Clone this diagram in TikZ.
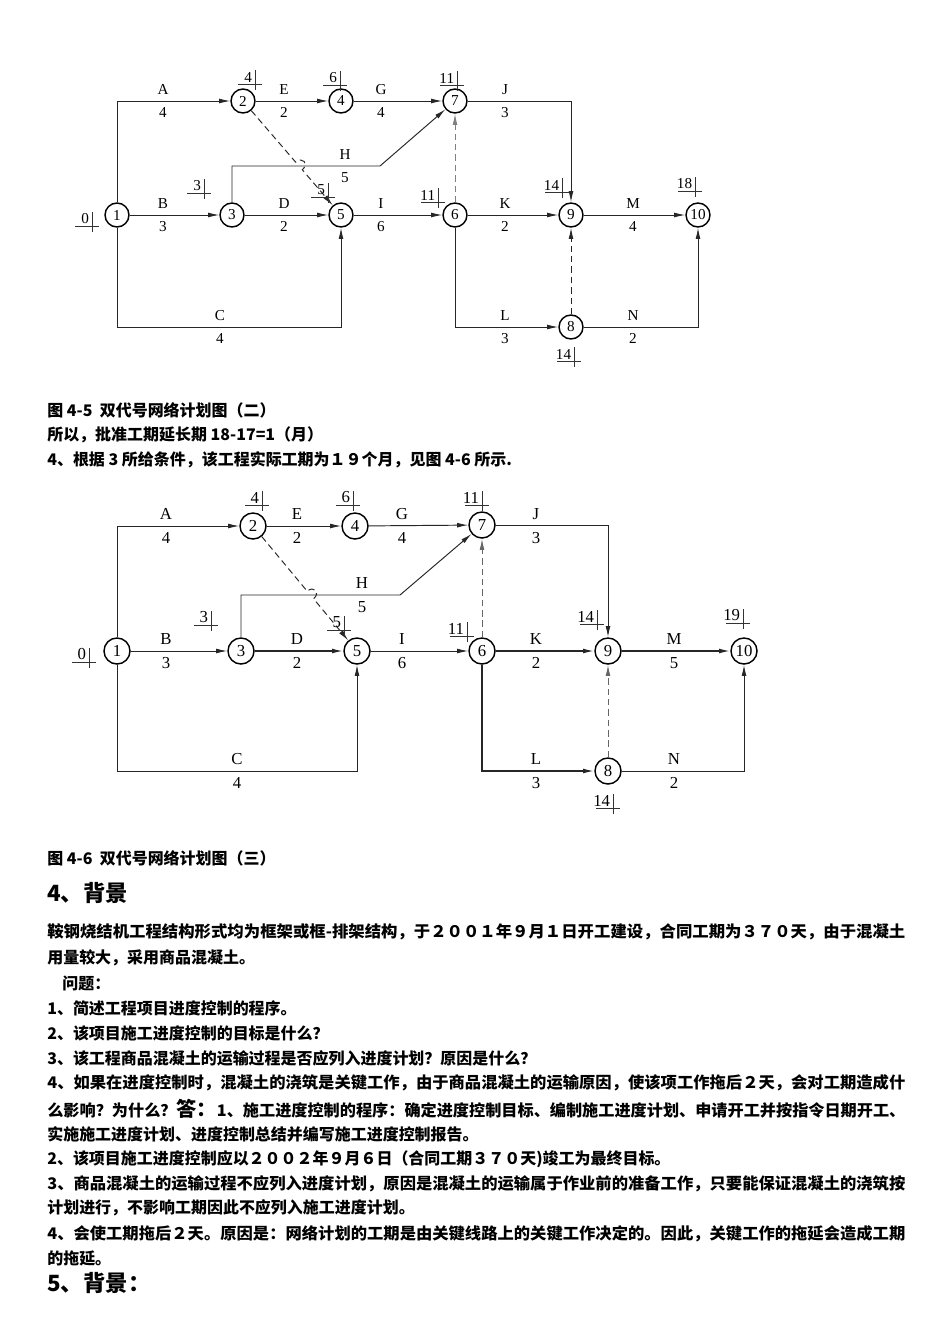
\documentclass[tikz,border=0pt]{standalone}
\usepackage{fontspec}
\usepackage{graphicx}
\setmainfont{Liberation Serif}
\newfontfamily\cjk{Noto Sans CJK SC}
\usetikzlibrary{arrows.meta}
\newlength\pxu
\setlength\pxu{0.626pt}
\tikzset{
  ev/.style={circle, draw, line width=0.9pt, inner sep=0pt, minimum size=15pt},
  act/.style={draw=black!85, line width=0.6pt, -{Latex[length=7pt,width=3pt]}},
  dum/.style={act, dash pattern=on 4pt off 2.5pt},
  mk/.style={draw=black!80, line width=0.5pt},
  txt/.style={anchor=west, inner sep=0pt, font=\cjk\bfseries\fontsize{10}{12}\selectfont},
  head/.style={txt, font=\cjk\bfseries\fontsize{14}{16}\selectfont},
}
% time mark: name, x, y of the cross, number
\newcommand\tmark[4]{%
  \draw[mk] (#2-17,#3) -- (#2+7,#3) (#2,#3-14) -- (#2,#3+6);
  \node[anchor=south east, inner sep=1pt] (#1) at (#2-1,#3) {#4};}
% activity label: name, x, y of the line, letter, duration
\newcommand\alab[5]{%
  \node[anchor=south, inner sep=2pt] (#1) at (#2,#3-3) {#4};
  \node[anchor=north, inner sep=2pt] (#1d) at (#2,#3+3) {#5};}
% stretch one line of text to the full width
\newcommand\jl[1]{\resizebox{858\pxu}{\height}{#1}}

\begin{document}
\begin{tikzpicture}[x=0.626pt, y=-0.626pt]
  \fill[white] (0,0) rectangle (950,1344);
  \useasboundingbox (0,0) rectangle (950,1344);

  % figure 4-5
  \begin{scope}[font=\fontsize{9.5}{11}\selectfont]
    \node[ev] (a1) at (117,215) {1};
    \node[ev] (a2) at (243,101) {2};
    \node[ev] (a4) at (341,101) {4};
    \node[ev] (a7) at (455,101) {7};
    \node[ev] (a3) at (232,215) {3};
    \node[ev] (a5) at (341,215) {5};
    \node[ev] (a6) at (455,215) {6};
    \node[ev] (a9) at (571,215) {9};
    \node[ev] (a10) at (698,215) {10};
    \node[ev] (a8) at (571,327) {8};
    \coordinate (ha) at (380,166);
    \coordinate (ca) at (341,327);
    \coordinate (pa1) at (295.7,162.2);
    \coordinate (pa2) at (302.3,169.8);

    \draw[act] (a1) |- (a2);
    \draw[act] (a2) -- (a4);
    \draw[act] (a4) -- (a7);
    \draw[act] (a7) -| (a9);
    \draw[act] (a3) |- (ha) -- (a7);
    \draw[act] (a1) -- (a3);
    \draw[act] (a3) -- (a5);
    \draw[act] (a5) -- (a6);
    \draw[act] (a6) -- (a9);
    \draw[act] (a9) -- (a10);
    \draw[act] (a1) |- (ca) -- (a5);
    \draw[act] (a6) |- (a8);
    \draw[act] (a8) -| (a10);
    \draw[dum] (a2) -- (pa1) .. controls +(7,-6) and +(7,-6) .. (pa2) -- (a5);
    \draw[dum, draw=black!50] (a6) -- (a7);
    \draw[dum] (a8) -- (a9);

    \alab{aA}{163}{101}{A}{4}
    \alab{aE}{284}{101}{E}{2}
    \alab{aG}{381}{101}{G}{4}
    \alab{aJ}{505}{101}{J}{3}
    \alab{aH}{345}{166}{H}{5}
    \alab{aB}{163}{215}{B}{3}
    \alab{aD}{284}{215}{D}{2}
    \alab{aI}{381}{215}{I}{6}
    \alab{aK}{505}{215}{K}{2}
    \alab{aM}{633}{215}{M}{4}
    \alab{aC}{220}{327}{C}{4}
    \alab{aL}{505}{327}{L}{3}
    \alab{aN}{633}{327}{N}{2}

    \tmark{ta1}{92}{226}{0}
    \tmark{ta2}{255}{84}{4}
    \tmark{ta4}{340}{85}{6}
    \tmark{ta7}{457}{85}{11}
    \tmark{ta3}{204}{193}{3}
    \tmark{ta5}{328}{197}{5}
    \tmark{ta6}{438}{202}{11}
    \tmark{ta9}{562}{192}{14}
    \tmark{ta10}{695}{191}{18}
    \tmark{ta8}{574}{361}{14}
  \end{scope}

  \node[txt] (cap1) at (47,410) {图 4-5\ \ 双代号网络计划图（二）};
  \node[txt] (t1) at (47,435) {所以，批准工期延长期 18-17=1（月）};
  \node[txt] (t2) at (47,460) {4、根据 3 所给条件，该工程实际工期为１９个月，见图 4-6 所示.};

  % figure 4-6
  \begin{scope}[font=\fontsize{10.5}{12}\selectfont, ev/.append style={minimum size=16.3pt}]
    \node[ev] (b1) at (117,651) {1};
    \node[ev] (b2) at (253,526) {2};
    \node[ev] (b4) at (355,526) {4};
    \node[ev] (b7) at (482,525) {7};
    \node[ev] (b3) at (241,651) {3};
    \node[ev] (b5) at (357,651) {5};
    \node[ev] (b6) at (482,651) {6};
    \node[ev] (b9) at (608,651) {9};
    \node[ev] (b10) at (744,651) {10};
    \node[ev] (b8) at (608,771) {8};
    \coordinate (hb) at (400,595);
    \coordinate (cb) at (357,771);
    \coordinate (pb1) at (307.2,591.2);
    \coordinate (pb2) at (313.6,598.8);

    \draw[act] (b1) |- (b2);
    \draw[act] (b2) -- (b4);
    \draw[act] (b4) -- (b7);
    \draw[act] (b7) -| (b9);
    \draw[act] (b3) |- (hb) -- (b7);
    \draw[act] (b1) -- (b3);
    \draw[act, line width=0.9pt] (b3) -- (b5);
    \draw[act] (b5) -- (b6);
    \draw[act, line width=0.9pt] (b6) -- (b9);
    \draw[act, line width=0.9pt] (b9) -- (b10);
    \draw[act] (b1) |- (cb) -- (b5);
    \draw[act, line width=0.9pt] (b6) |- (b8);
    \draw[act] (b8) -| (b10);
    \draw[dum] (b2) -- (pb1) .. controls +(7,-6) and +(7,-6) .. (pb2) -- (b5);
    \draw[dum, draw=black!60] (b6) -- (b7);
    \draw[dum, draw=black!60] (b8) -- (b9);

    \alab{bA}{166}{526}{A}{4}
    \alab{bE}{297}{526}{E}{2}
    \alab{bG}{402}{526}{G}{4}
    \alab{bJ}{536}{526}{J}{3}
    \alab{bH}{362}{595}{H}{5}
    \alab{bB}{166}{651}{B}{3}
    \alab{bD}{297}{651}{D}{2}
    \alab{bI}{402}{651}{I}{6}
    \alab{bK}{536}{651}{K}{2}
    \alab{bM}{674}{651}{M}{5}
    \alab{bC}{237}{771}{C}{4}
    \alab{bL}{536}{771}{L}{3}
    \alab{bN}{674}{771}{N}{2}

    \tmark{tb1}{89}{662}{0}
    \tmark{tb2}{262}{505}{4}
    \tmark{tb4}{353}{505}{6}
    \tmark{tb7}{482}{505}{11}
    \tmark{tb3}{211}{625}{3}
    \tmark{tb5}{344}{630}{5}
    \tmark{tb6}{467}{636}{11}
    \tmark{tb9}{597}{624}{14}
    \tmark{tb10}{743}{623}{19}
    \tmark{tb8}{613}{808}{14}
  \end{scope}

  \node[txt] (cap2) at (47,858) {图 4-6\ \ 双代号网络计划图（三）};
  \node[head] (h4) at (47,893) {4、背景};
  \node[txt] (p1) at (47,932) {\jl{鞍钢烧结机工程结构形式均为框架或框-排架结构，于２００１年９月１日开工建设，合同工期为３７０天，由于混凝土}};
  \node[txt] (p2) at (47,958) {用量较大，采用商品混凝土。};
  \node[txt] (p3) at (62,983) {问题：};
  \node[txt] (p4) at (47,1008) {1、简述工程项目进度控制的程序。};
  \node[txt] (p5) at (47,1033) {2、该项目施工进度控制的目标是什么？};
  \node[txt] (p6) at (47,1058) {3、该工程商品混凝土的运输过程是否应列入进度计划？原因是什么？};
  \node[txt] (p7) at (47,1083) {\jl{4、如果在进度控制时，混凝土的浇筑是关键工作，由于商品混凝土的运输原因，使该项工作拖后２天，会对工期造成什}};
  \node[txt] (p8) at (47,1109) {\jl{么影响？为什么？{\fontsize{12.5}{14}\selectfont 答：}1、施工进度控制的程序：确定进度控制目标、编制施工进度计划、申请开工并按指令日期开工、}};
  \node[txt] (p9) at (47,1134) {实施施工进度计划、进度控制总结并编写施工进度控制报告。};
  \node[txt] (p10) at (47,1159) {2、该项目施工进度控制应以２００２年９月６日（合同工期３７０天)竣工为最终目标。};
  \node[txt] (p11) at (47,1184) {\jl{3、商品混凝土的运输过程不应列入进度计划，原因是混凝土的运输属于作业前的准备工作，只要能保证混凝土的浇筑按}};
  \node[txt] (p12) at (47,1208) {计划进行，不影响工期因此不应列入施工进度计划。};
  \node[txt] (p13) at (47,1234) {\jl{4、会使工期拖后２天。原因是：网络计划的工期是由关键线路上的关键工作决定的。因此，关键工作的拖延会造成工期}};
  \node[txt] (p14) at (47,1258) {的拖延。};
  \node[head] (h5) at (47,1283) {5、背景：};
\end{tikzpicture}
\end{document}
